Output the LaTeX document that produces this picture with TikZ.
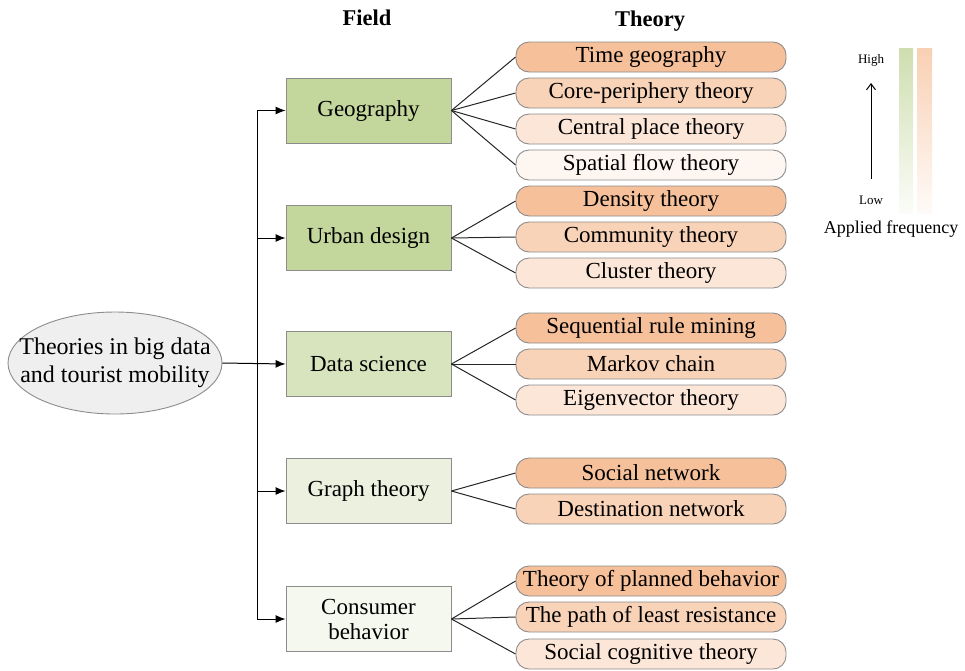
\documentclass[tikz,border=0pt]{standalone}
\usepackage{fontspec}
\setmainfont{Liberation Serif}
\usetikzlibrary{arrows.meta,shapes.geometric}

\definecolor{greenA}{HTML}{C3D69B}
\definecolor{greenB}{HTML}{D7E4BD}
\definecolor{greenC}{HTML}{EBF1DE}
\definecolor{greenD}{HTML}{F5F8EF}
\definecolor{orangeA}{HTML}{F6C09A}
\definecolor{orangeB}{HTML}{F9D3B8}
\definecolor{orangeC}{HTML}{FCE6D8}
\definecolor{orangeD}{HTML}{FEF6F1}
\definecolor{rootfill}{HTML}{EFEFEF}
\definecolor{edgegray}{HTML}{8C8C8C}

\tikzset{
  fieldbox/.style={draw=edgegray, line width=0.9pt, minimum width=165pt, minimum height=65pt,
    inner sep=0pt, align=center, font=\fontsize{23}{25}\selectfont},
  theorybox/.style={draw=edgegray, line width=0.9pt, rounded corners=13pt, minimum width=270pt,
    minimum height=30pt, inner sep=0pt, font=\fontsize{23}{25}\selectfont},
  rootnode/.style={ellipse, draw=edgegray, line width=0.9pt, fill=rootfill, minimum width=214pt,
    minimum height=102pt, inner xsep=-30pt, inner ysep=0pt, align=center,
    font=\fontsize{24}{28}\selectfont},
  header/.style={font=\fontsize{22.5}{26}\selectfont\bfseries},
  feed/.style={-{Latex[length=10pt,width=8pt]}, line width=1pt, black},
  link/.style={line width=1pt, black!85},
}

\begin{document}
\begin{tikzpicture}[x=1pt,y=-1pt]
\useasboundingbox (0,0) rectangle (965,670);

% column headers
\node[header] (hfield) at (367,18) {Field};
\node[header] (htheory) at (650,21) {Theory};

% root
\node[rootnode] (root) at (115,363) {Theories in big data\\and tourist mobility};

% fields
\node[fieldbox, fill=greenA] (geo) at (368.5,110.5) {Geography};
\node[fieldbox, fill=greenA] (urb) at (368.5,238) {Urban design};
\node[fieldbox, fill=greenB] (dat) at (368.5,364) {Data science};
\node[fieldbox, fill=greenC] (gra) at (368.5,491) {Graph theory};
\node[fieldbox, fill=greenD] (con) at (368.5,619) {Consumer\\behavior};

% spine
\coordinate (s1) at (257,110.5);
\coordinate (s2) at (257,238);
\coordinate (s3) at (257,364);
\coordinate (s4) at (257,491);
\coordinate (s5) at (257,619);
\draw[line width=1pt] (s1) -- (s5);
\draw[feed] (root.east) -- (dat.west);
\foreach \s/\f in {s1/geo,s2/urb,s4/gra,s5/con}
  \draw[feed] (\s) -- (\f.west);

% theories
\node[theorybox, fill=orangeA] (t1) at (651,57) {Time geography};
\node[theorybox, fill=orangeB] (t2) at (651,93) {Core-periphery theory};
\node[theorybox, fill=orangeC] (t3) at (651,129) {Central place theory};
\node[theorybox, fill=orangeD] (t4) at (651,165) {Spatial flow theory};

\node[theorybox, fill=orangeA] (t5) at (651,201) {Density theory};
\node[theorybox, fill=orangeB] (t6) at (651,237) {Community theory};
\node[theorybox, fill=orangeC] (t7) at (651,273) {Cluster theory};

\node[theorybox, fill=orangeA] (t8) at (651,328) {Sequential rule mining};
\node[theorybox, fill=orangeB] (t9) at (651,364) {Markov chain};
\node[theorybox, fill=orangeC] (t10) at (651,400) {Eigenvector theory};

\node[theorybox, fill=orangeA] (t11) at (651,473) {Social network};
\node[theorybox, fill=orangeB] (t12) at (651,509) {Destination network};

\node[theorybox, fill=orangeA] (t13) at (651,581) {Theory of planned behavior};
\node[theorybox, fill=orangeB] (t14) at (651,617) {The path of least resistance};
\node[theorybox, fill=orangeC] (t15) at (651,654) {Social cognitive theory};

% field-to-theory links
\foreach \t in {t1,t2,t3,t4} \draw[link] (geo.east) -- (\t.west);
\foreach \t in {t5,t6,t7} \draw[link] (urb.east) -- (\t.west);
\foreach \t in {t8,t9,t10} \draw[link] (dat.east) -- (\t.west);
\foreach \t in {t11,t12} \draw[link] (gra.east) -- (\t.west);
\foreach \t in {t13,t14,t15} \draw[link] (con.east) -- (\t.west);

% frequency legend
\shade[top color=greenA!80, bottom color=greenD!40] (899,48) rectangle (913,213);
\shade[top color=orangeA!75, bottom color=orangeD!50] (917,48) rectangle (932,213);
\node[font=\fontsize{13}{15}\selectfont] (high) at (871,60) {High};
\node[font=\fontsize{13}{15}\selectfont] (low) at (871,200) {Low};
\coordinate (abot) at (871,179);
\coordinate (atop) at (871,83);
\draw[-{Straight Barb[length=6pt,width=9pt]}, line width=1pt] (abot) -- (atop);
\node[font=\fontsize{18}{21}\selectfont] (afreq) at (891,229) {Applied frequency};
\end{tikzpicture}
\end{document}
